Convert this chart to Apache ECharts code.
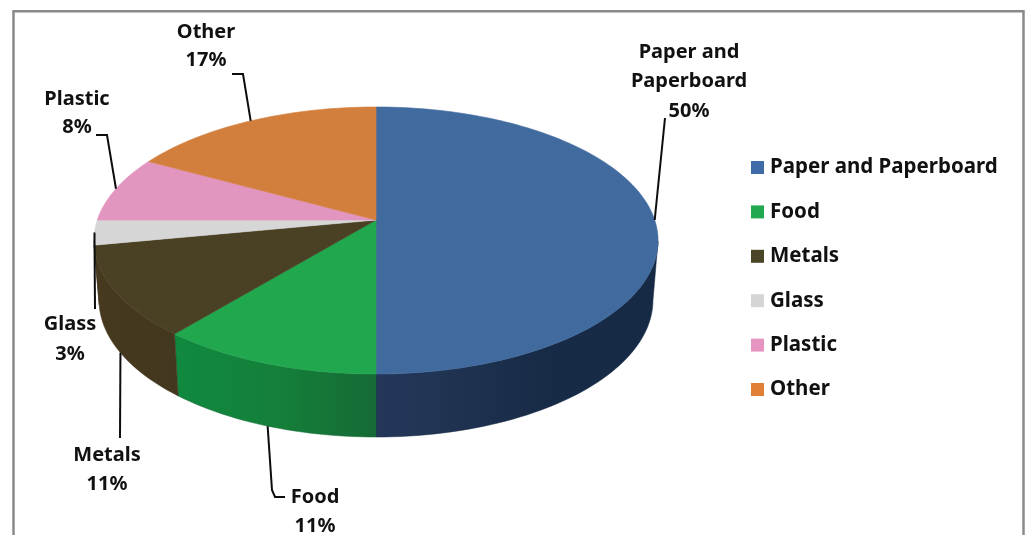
<!DOCTYPE html>
<html><head><meta charset="utf-8">
<style>html,body{margin:0;padding:0;background:#fff}#c{width:1025px;height:535px}</style>
<script src="https://cdn.jsdelivr.net/npm/echarts@6/dist/echarts.min.js"></script>
</head><body><div id="c"></div>
<script>
const categories = ['Paper and Paperboard','Food','Metals','Glass','Plastic','Other'];
const shares = [50, 11, 11, 3, 8, 17];
const labelLines = [['Paper and','Paperboard'],['Food'],['Metals'],['Glass'],['Plastic'],['Other']];
const topColors = ['#416b9e','#21a84f','#4a4024','#d6d6d6','#e295bf','#d27f3e'];
const legendColors = ['#3f6ba8','#22a84f','#4a4526','#d5d5d5','#e695c2','#e07f35'];
const sideStops = [
  [[0,'#24375b'],[.3,'#1f3350'],[.6,'#172b47'],[1,'#162a46']],
  [[0,'#10893f'],[.5,'#148039'],[1,'#166a36']],
  [[0,'#46391f'],[1,'#43371f']],
  [[0,'#43371f'],[1,'#43371f']],
  [[0,'#b06f94'],[1,'#b06f94']],
  [[0,'#a5632f'],[1,'#a5632f']]
];
// annotation layout: label text centre (first line), line pitch, leader elbows after the rim anchor
const labelLayout = [
  {x:689,y:52,pitch:29.5,rim:'top',leader:[[665,118]]},
  {x:315,y:497,pitch:29,rim:'bottom',leader:[[272,490],[275,497],[285,497]]},
  {x:107,y:455,pitch:29,rim:'bottom',leader:[[120,438]]},
  {x:70,y:324,pitch:30,rim:'top',leader:[[95,309]]},
  {x:77,y:99,pitch:28,rim:'top',leader:[[107,135],[96,135]]},
  {x:206,y:32,pitch:28,rim:'top',leader:[[243,74],[232,74]]}
];

// Projective mapping of the flat pie disc onto the tilted ellipse
const apex={x:376,y:220}, K=278.7, A=96.6, C=-0.1536;
function topPt(deg){
  const t=deg*Math.PI/180,u=Math.sin(t),v=-Math.cos(t),w=1+C*v;
  return [apex.x+K*u/w,(A*v+apex.y)/w];
}
function botPt(deg){
  const p=topPt(deg);
  return [apex.x+(p[0]-apex.x)*0.982,300+(p[1]-240.5)*1.026];
}
function arc(fn,a,b){
  const n=Math.max(2,Math.ceil(Math.abs(b-a)/1.5)),r=[];
  for(let i=0;i<=n;i++) r.push(fn(a+(b-a)*i/n));
  return r;
}
const cum=[];shares.reduce((s,v,i)=>(cum[i]=s,s+v),0);

function renderSlice(i){
  return function(){
    const a=cum[i]*3.6,b=(cum[i]+shares[i])*3.6,mid=(a+b)/2,children=[];
    const s=Math.max(a,99),e=Math.min(b,261);
    if(e>s){
      const pts=arc(topPt,s,e).concat(arc(botPt,e,s));
      children.push({type:'polygon',shape:{points:pts},
        style:{fill:new echarts.graphic.LinearGradient(0,0,1,0,
          sideStops[i].map(p=>({offset:p[0],color:p[1]}))),
          stroke:sideStops[i][sideStops[i].length-1][1],lineWidth:.5}});
    }
    const face=[[apex.x,apex.y]].concat(arc(topPt,a,b));
    children.push({type:'polygon',z2:5,shape:{points:face},
      style:{fill:topColors[i],stroke:topColors[i],lineWidth:.6}});
    const L=labelLayout[i];
    const anchor=L.rim==='top'?topPt(mid):botPt(mid);
    children.push({type:'polyline',z2:8,shape:{points:[anchor].concat(L.leader)},
      style:{fill:'none',stroke:'#0d0d0d',lineWidth:2}});
    const lines=labelLines[i].concat([shares[i]+'%']);
    lines.forEach((t,k)=>children.push({type:'text',z2:9,style:{
      text:t,x:L.x,y:L.y+k*L.pitch,align:'center',verticalAlign:'middle',
      fontFamily:'"Noto Sans"',fontWeight:'bold',fontSize:20,fill:'#111'}}));
    return {type:'group',children};
  };
}

const series=categories.map((name,i)=>({
  name,type:'custom',coordinateSystem:'none',silent:true,animation:false,
  itemStyle:{color:legendColors[i]},
  data:[shares[i]],renderItem:renderSlice(i)
}));

const chart=echarts.init(document.getElementById('c'),null,{renderer:'canvas'});
chart.setOption({
  animation:false,backgroundColor:'#fff',
  legend:{orient:'vertical',left:751,top:157,padding:0,itemWidth:13,itemHeight:13,itemGap:23.4,icon:'rect',
    data:categories,selectedMode:false,
    textStyle:{fontFamily:'"Noto Sans"',fontWeight:'bold',fontSize:20.5,lineHeight:18,color:'#111',padding:[0,0,0,1]}},
  graphic:[{type:'rect',silent:true,z:-1,shape:{x:13.5,y:11.3,width:1010,height:540},
    style:{fill:'#fff',stroke:'#8a8a8a',lineWidth:2.5}}],
  series
});
</script></body></html>
